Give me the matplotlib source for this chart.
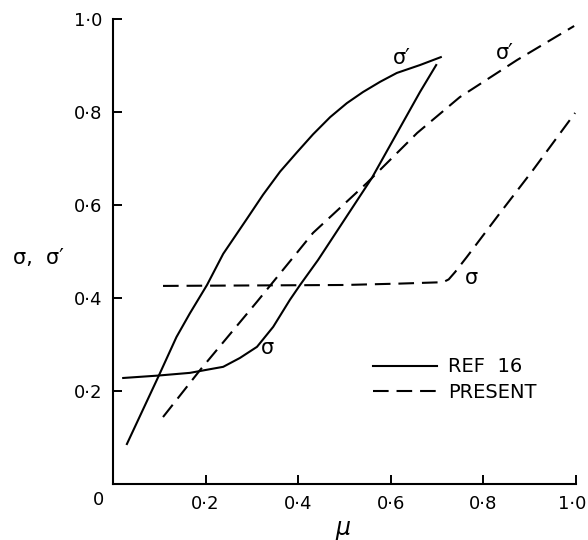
import numpy as np
import matplotlib
matplotlib.use("Agg")
import matplotlib.pyplot as plt
import matplotlib.transforms as mtransforms

# REF 16 curves
mu_ref_sp = [0.030, 0.098, 0.137, 0.166, 0.203, 0.238, 0.289, 0.324, 0.361, 0.397, 0.432,
             0.469, 0.505, 0.540, 0.577, 0.613, 0.663, 0.708]
sp_ref = [0.086, 0.231, 0.316, 0.367, 0.428, 0.495, 0.570, 0.622, 0.672, 0.713, 0.752,
          0.789, 0.819, 0.843, 0.865, 0.884, 0.901, 0.918]

mu_ref_s = [0.022, 0.095, 0.166, 0.210, 0.238, 0.274, 0.311, 0.346, 0.382, 0.404, 0.443,
            0.559, 0.663, 0.698]
s_ref = [0.228, 0.233, 0.239, 0.247, 0.252, 0.271, 0.295, 0.338, 0.396, 0.428, 0.482,
         0.658, 0.843, 0.901]

# present curves
mu_pr_sp = [0.108, 0.188, 0.311, 0.397, 0.432, 0.548, 0.657, 0.749, 0.873, 0.996]
sp_pr = [0.144, 0.245, 0.392, 0.497, 0.540, 0.647, 0.755, 0.832, 0.912, 0.985]

mu_pr_s = [0.108, 0.30, 0.50, 0.62, 0.713, 0.725, 0.739, 0.764, 0.836, 0.907, 0.998]
s_pr = [0.426, 0.427, 0.428, 0.431, 0.434, 0.440, 0.456, 0.488, 0.583, 0.675, 0.798]

ticks = [0.2, 0.4, 0.6, 0.8, 1.0]
tick_labels = ["0·2", "0·4", "0·6", "0·8", "1·0"]

fig = plt.figure(figsize=(5.88, 5.4), dpi=100)
ax = fig.add_axes([0.1922, 0.1037, 0.7874, 0.8611])

lw = 1.5
dash = (0, (7.5, 3.8))
ax.plot(mu_ref_sp, sp_ref, color='black', lw=lw, label='REF  16')
ax.plot(mu_ref_s, s_ref, color='black', lw=lw)
ax.plot(mu_pr_sp, sp_pr, color='black', lw=lw, linestyle=dash, label='PRESENT')
ax.plot(mu_pr_s, s_pr, color='black', lw=lw, linestyle=dash)

# curve labels
ax.text(0.624, 0.916, "σ′", fontsize=15, ha='center', va='center')
ax.text(0.847, 0.927, "σ′", fontsize=15, ha='center', va='center')
ax.text(0.333, 0.292, "σ", fontsize=15, ha='center', va='center')
ax.text(0.774, 0.444, "σ", fontsize=15, ha='center', va='center')

ax.set_xlim(0, 1.0)
ax.set_ylim(0, 1.0)
ax.set_xticks(ticks)
ax.set_xticklabels(tick_labels)
ax.set_yticks(ticks)
ax.set_yticklabels(tick_labels)
ax.tick_params(direction='in', length=6.5, width=1.4, labelsize=13, pad=8)

# nudge the last x label so it stays inside the figure
last = ax.get_xticklabels()[-1]
last.set_transform(last.get_transform() +
                   mtransforms.ScaledTranslation(-0.04, 0, fig.dpi_scale_trans))

for s in ['top', 'right']:
    ax.spines[s].set_visible(False)
for s in ['left', 'bottom']:
    ax.spines[s].set_linewidth(1.5)

ax.text(-0.032, -0.034, "0", fontsize=13, ha='center', va='center', transform=ax.transAxes)

ax.set_xlabel("μ", fontsize=17, style='italic')
ax.xaxis.set_label_coords(0.497, -0.095)
ax.xaxis.label.set_va('center')
ax.set_ylabel("σ,  σ′", fontsize=15, rotation=0)
ax.yaxis.set_label_coords(-0.16, 0.486)
ax.yaxis.label.set_va('center')
ax.yaxis.label.set_ha('center')

ax.legend(loc='center left', bbox_to_anchor=(0.562, 0.224), frameon=False,
          fontsize=14, handlelength=3.3, handletextpad=0.55, labelspacing=0.35,
          borderpad=0, borderaxespad=0)

fig.savefig("out.png", dpi=100)
